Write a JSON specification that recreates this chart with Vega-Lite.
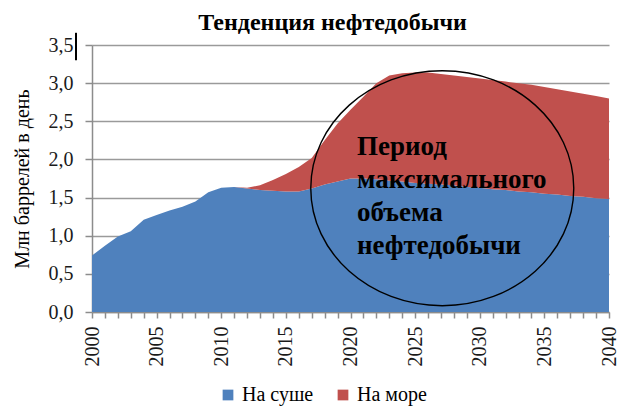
{
  "$schema": "https://vega.github.io/schema/vega-lite/v6.json",
  "width": 517,
  "height": 267,
  "autosize": "none",
  "padding": {"left": 92, "top": 45, "right": 8, "bottom": 95},
  "background": "white",
  "title": {
    "text": "Тенденция нефтедобычи",
    "font": "Liberation Serif",
    "fontSize": 24,
    "fontWeight": "bold",
    "color": "#000000",
    "anchor": "middle",
    "baseline": "alphabetic",
    "offset": 14,
    "dy": 36,
    "dx": -18
  },
  "config": {
    "view": {"stroke": null},
    "axis": {
      "labelFont": "Liberation Serif",
      "titleFont": "Liberation Serif",
      "labelColor": "#1a1a1a",
      "titleColor": "#000000",
      "domainColor": "#8c8c8c",
      "tickColor": "#8c8c8c",
      "gridColor": "#9a9a9a"
    }
  },
  "layer": [
    {
      "data": {
        "values": [
          {"year": 2000, "type": "На суше", "value": 0.74},
          {"year": 2001, "type": "На суше", "value": 0.87},
          {"year": 2002, "type": "На суше", "value": 0.99},
          {"year": 2003, "type": "На суше", "value": 1.06},
          {"year": 2004, "type": "На суше", "value": 1.21},
          {"year": 2005, "type": "На суше", "value": 1.27},
          {"year": 2006, "type": "На суше", "value": 1.33},
          {"year": 2007, "type": "На суше", "value": 1.38},
          {"year": 2008, "type": "На суше", "value": 1.45},
          {"year": 2009, "type": "На суше", "value": 1.57},
          {"year": 2010, "type": "На суше", "value": 1.63},
          {"year": 2011, "type": "На суше", "value": 1.64},
          {"year": 2012, "type": "На суше", "value": 1.62},
          {"year": 2013, "type": "На суше", "value": 1.60},
          {"year": 2014, "type": "На суше", "value": 1.59},
          {"year": 2015, "type": "На суше", "value": 1.58},
          {"year": 2016, "type": "На суше", "value": 1.58},
          {"year": 2017, "type": "На суше", "value": 1.62},
          {"year": 2018, "type": "На суше", "value": 1.67},
          {"year": 2019, "type": "На суше", "value": 1.71},
          {"year": 2020, "type": "На суше", "value": 1.75},
          {"year": 2021, "type": "На суше", "value": 1.75},
          {"year": 2022, "type": "На суше", "value": 1.74},
          {"year": 2023, "type": "На суше", "value": 1.72},
          {"year": 2024, "type": "На суше", "value": 1.71},
          {"year": 2025, "type": "На суше", "value": 1.69},
          {"year": 2026, "type": "На суше", "value": 1.68},
          {"year": 2027, "type": "На суше", "value": 1.67},
          {"year": 2028, "type": "На суше", "value": 1.66},
          {"year": 2029, "type": "На суше", "value": 1.64},
          {"year": 2030, "type": "На суше", "value": 1.63},
          {"year": 2031, "type": "На суше", "value": 1.61},
          {"year": 2032, "type": "На суше", "value": 1.60},
          {"year": 2033, "type": "На суше", "value": 1.58},
          {"year": 2034, "type": "На суше", "value": 1.57},
          {"year": 2035, "type": "На суше", "value": 1.55},
          {"year": 2036, "type": "На суше", "value": 1.54},
          {"year": 2037, "type": "На суше", "value": 1.52},
          {"year": 2038, "type": "На суше", "value": 1.51},
          {"year": 2039, "type": "На суше", "value": 1.49},
          {"year": 2040, "type": "На суше", "value": 1.48},
          {"year": 2000, "type": "На море", "value": 0},
          {"year": 2001, "type": "На море", "value": 0},
          {"year": 2002, "type": "На море", "value": 0},
          {"year": 2003, "type": "На море", "value": 0},
          {"year": 2004, "type": "На море", "value": 0},
          {"year": 2005, "type": "На море", "value": 0},
          {"year": 2006, "type": "На море", "value": 0},
          {"year": 2007, "type": "На море", "value": 0},
          {"year": 2008, "type": "На море", "value": 0},
          {"year": 2009, "type": "На море", "value": 0},
          {"year": 2010, "type": "На море", "value": 0},
          {"year": 2011, "type": "На море", "value": 0},
          {"year": 2012, "type": "На море", "value": 0.01},
          {"year": 2013, "type": "На море", "value": 0.06},
          {"year": 2014, "type": "На море", "value": 0.14},
          {"year": 2015, "type": "На море", "value": 0.23},
          {"year": 2016, "type": "На море", "value": 0.32},
          {"year": 2017, "type": "На море", "value": 0.40},
          {"year": 2018, "type": "На море", "value": 0.58},
          {"year": 2019, "type": "На море", "value": 0.76},
          {"year": 2020, "type": "На море", "value": 0.90},
          {"year": 2021, "type": "На море", "value": 1.07},
          {"year": 2022, "type": "На море", "value": 1.26},
          {"year": 2023, "type": "На море", "value": 1.38},
          {"year": 2024, "type": "На море", "value": 1.42},
          {"year": 2025, "type": "На море", "value": 1.45},
          {"year": 2026, "type": "На море", "value": 1.46},
          {"year": 2027, "type": "На море", "value": 1.45},
          {"year": 2028, "type": "На море", "value": 1.44},
          {"year": 2029, "type": "На море", "value": 1.44},
          {"year": 2030, "type": "На море", "value": 1.43},
          {"year": 2031, "type": "На море", "value": 1.43},
          {"year": 2032, "type": "На море", "value": 1.42},
          {"year": 2033, "type": "На море", "value": 1.42},
          {"year": 2034, "type": "На море", "value": 1.41},
          {"year": 2035, "type": "На море", "value": 1.40},
          {"year": 2036, "type": "На море", "value": 1.38},
          {"year": 2037, "type": "На море", "value": 1.37},
          {"year": 2038, "type": "На море", "value": 1.35},
          {"year": 2039, "type": "На море", "value": 1.34},
          {"year": 2040, "type": "На море", "value": 1.32}
        ]
      },
      "mark": {"type": "area", "interpolate": "linear"},
      "encoding": {
        "x": {
          "field": "year",
          "type": "quantitative",
          "scale": {"domain": [2000, 2040], "nice": false, "zero": false},
          "axis": {
            "title": null,
            "grid": false,
            "tickCount": 100,
            "values": [2000,2001,2002,2003,2004,2005,2006,2007,2008,2009,2010,2011,2012,2013,2014,2015,2016,2017,2018,2019,2020,2021,2022,2023,2024,2025,2026,2027,2028,2029,2030,2031,2032,2033,2034,2035,2036,2037,2038,2039,2040],
            "labelExpr": "datum.value % 5 === 0 ? format(datum.value, 'd') : ''",
            "labelAngle": -90,
            "labelAlign": "right",
            "labelBaseline": "middle",
            "labelFontSize": 20,
            "labelPadding": 8,
            "labelOverlap": false,
            "labelFlush": false,
            "tickSize": 6,
            "domainWidth": 1.5,
            "tickWidth": 1.5
          }
        },
        "y": {
          "field": "value",
          "type": "quantitative",
          "stack": "zero",
          "scale": {"domain": [0, 3.5], "nice": false},
          "axis": {
            "title": "Млн баррелей в день",
            "titleFontSize": 20,
            "titleFontWeight": "normal",
            "titlePadding": 16,
            "tickCount": 100,
            "values": [0, 0.5, 1, 1.5, 2, 2.5, 3, 3.5],
            "labelExpr": "replace(format(datum.value, '.1f'), '.', ',')",
            "labelFontSize": 20,
            "labelPadding": 12,
            "labelOverlap": false,
            "labelFlush": false,
            "tickSize": 7,
            "gridWidth": 1.5,
            "domainWidth": 1.5,
            "tickWidth": 1.5
          }
        },
        "color": {
          "field": "type",
          "type": "nominal",
          "scale": {"domain": ["На суше", "На море"], "range": ["#4F81BD", "#C0504D"]},
          "legend": {
            "title": null,
            "orient": "none",
            "direction": "horizontal",
            "legendX": 126,
            "legendY": 340,
            "symbolType": "square",
            "symbolSize": 115,
            "symbolStrokeWidth": 0,
            "labelFont": "Liberation Serif",
            "labelFontSize": 20,
            "labelColor": "#000000",
            "labelOffset": 4,
            "columnPadding": 19,
            "padding": 0
          }
        },
        "order": {"field": "type", "sort": "descending"}
      }
    },
    {
      "data": {"values": [{}]},
      "mark": {
        "type": "point",
        "shape": "M-1,0A1,0.8935,0,1,0,1,0A1,0.8935,0,1,0,-1,0Z",
        "filled": false,
        "stroke": "#000000",
        "strokeWidth": 1.4,
        "opacity": 1,
        "size": 69169
      },
      "encoding": {
        "x": {"datum": 2027.1, "type": "quantitative"},
        "y": {"datum": 1.623, "type": "quantitative"}
      }
    },
    {
      "data": {"values": [{}]},
      "mark": {"type": "rule", "stroke": "#000000", "strokeWidth": 2},
      "encoding": {
        "x": {"datum": 1998.76, "type": "quantitative"},
        "y": {"datum": 3.30, "type": "quantitative"},
        "y2": {"datum": 3.66}
      }
    },
    {
      "data": {"values": [{}]},
      "mark": {
        "type": "text",
        "text": ["Период", "максимального", "объема", "нефтедобычи"],
        "font": "Liberation Serif",
        "fontWeight": "bold",
        "fontSize": 27,
        "lineHeight": 33,
        "align": "left",
        "baseline": "alphabetic",
        "color": "#000000"
      },
      "encoding": {
        "x": {"datum": 2020.5, "type": "quantitative"},
        "y": {"datum": 2.06, "type": "quantitative"}
      }
    }
  ]
}
